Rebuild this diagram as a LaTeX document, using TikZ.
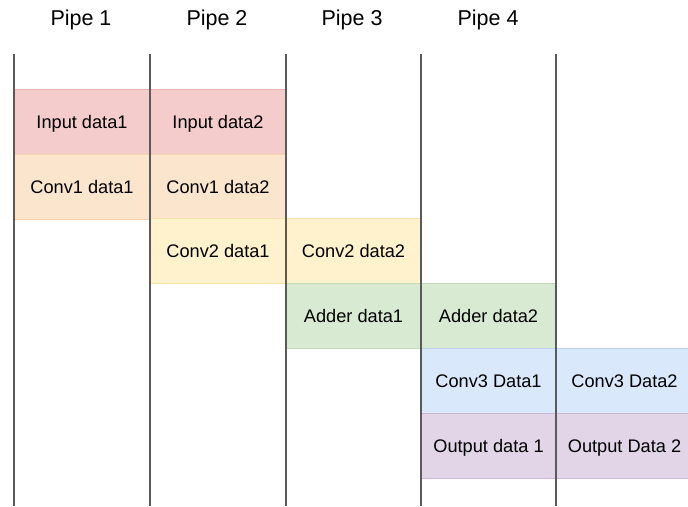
\documentclass[tikz,border=0pt]{standalone}
\usepackage{fontspec}
\setmainfont{Liberation Sans}

\definecolor{inred}{HTML}{F4CCCC}
\definecolor{inredline}{HTML}{EBB0AE}
\definecolor{convorange}{HTML}{FCE5CD}
\definecolor{convorangeline}{HTML}{F6D2AE}
\definecolor{convyellow}{HTML}{FFF2CC}
\definecolor{convyellowline}{HTML}{F7E3AC}
\definecolor{addgreen}{HTML}{D9EAD3}
\definecolor{addgreenline}{HTML}{C3DDB9}
\definecolor{convblue}{HTML}{DAE8FC}
\definecolor{convblueline}{HTML}{BFD3EF}
\definecolor{outpurple}{HTML}{E1D5E7}
\definecolor{outpurpleline}{HTML}{CDB9D6}
\definecolor{pipeline}{HTML}{5A5A5A}

\tikzset{
  cell/.style={shape=rectangle,align=center,inner sep=0pt,line width=0.6pt,
    minimum width=136pt,minimum height=65pt,text height=13pt,text depth=0pt,
    font=\fontsize{18.2}{20}\selectfont},
  pipehead/.style={shape=rectangle,inner sep=0pt,text height=15.5pt,text depth=0pt,
    font=\fontsize{21.5}{24}\selectfont},
  pipewall/.style={draw=pipeline,line width=1.8pt}
}

\begin{document}
\begin{tikzpicture}[x=1pt,y=-1pt]
\useasboundingbox (0,0) rectangle (688,506);

\node[pipehead] (h1) at (81,18) {Pipe 1};
\node[pipehead] (h2) at (217,18) {Pipe 2};
\node[pipehead] (h3) at (352,18) {Pipe 3};
\node[pipehead] (h4) at (488,18) {Pipe 4};

\node[cell,fill=inred,draw=inredline] (0) at (82,121.5) {Input data1};
\node[cell,fill=inred,draw=inredline] (1) at (218,121.5) {Input data2};
\node[cell,fill=convorange,draw=convorangeline] (2) at (82,186.5) {Conv1 data1};
\node[cell,fill=convorange,draw=convorangeline] (3) at (218,186.5) {Conv1 data2};
\node[cell,fill=convyellow,draw=convyellowline] (4) at (218,251) {Conv2 data1};
\node[cell,fill=convyellow,draw=convyellowline] (5) at (353.5,251) {Conv2 data2};
\node[cell,fill=addgreen,draw=addgreenline] (6) at (353.5,315.5) {Adder data1};
\node[cell,fill=addgreen,draw=addgreenline] (7) at (488.5,315.5) {Adder data2};
\node[cell,fill=convblue,draw=convblueline] (8) at (488.5,380.5) {Conv3 Data1};
\node[cell,fill=convblue,draw=convblueline] (9) at (624.5,380.5) {Conv3 Data2};
\node[cell,fill=outpurple,draw=outpurpleline] (10) at (488.5,445.5) {Output data 1};
\node[cell,fill=outpurple,draw=outpurpleline] (11) at (624.5,445.5) {Output Data 2};

\coordinate (t0) at (14,54);  \coordinate (b0) at (14,506);
\coordinate (t1) at (150,54); \coordinate (b1) at (150,506);
\coordinate (t2) at (286,54); \coordinate (b2) at (286,506);
\coordinate (t3) at (421,54); \coordinate (b3) at (421,506);
\coordinate (t4) at (556,54); \coordinate (b4) at (556,506);

\path [pipewall] (t0) -- (b0);
\path [pipewall] (t1) -- (b1);
\path [pipewall] (t2) -- (b2);
\path [pipewall] (t3) -- (b3);
\path [pipewall] (t4) -- (b4);
\end{tikzpicture}
\end{document}
